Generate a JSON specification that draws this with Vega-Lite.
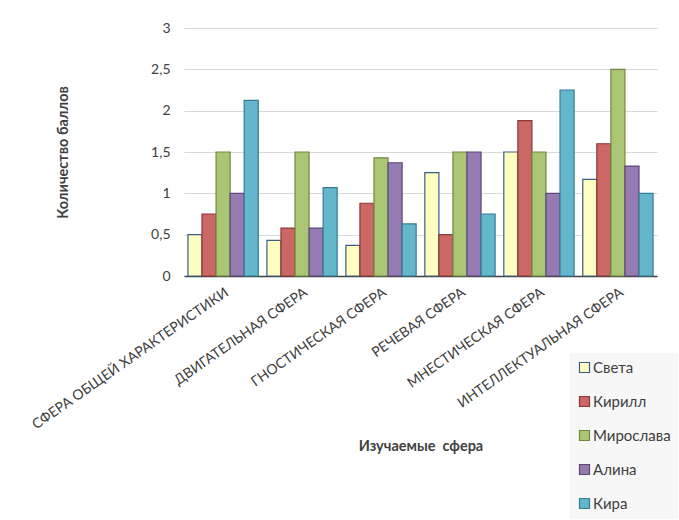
{
  "$schema": "https://vega.github.io/schema/vega-lite/v6.json",
  "autosize": {"type": "none"},
  "padding": {"left": 184, "top": 28, "right": 22, "bottom": 244},
  "width": 473,
  "height": 248,
  "background": "white",
  "config": {
    "font": "Lato",
    "view": {"stroke": null}
  },
  "data": {
    "values": [
      {"sphere": "СФЕРА ОБЩЕЙ ХАРАКТЕРИСТИКИ", "name": "Света", "score": 0.5},
      {"sphere": "СФЕРА ОБЩЕЙ ХАРАКТЕРИСТИКИ", "name": "Кирилл", "score": 0.75},
      {"sphere": "СФЕРА ОБЩЕЙ ХАРАКТЕРИСТИКИ", "name": "Мирослава", "score": 1.5},
      {"sphere": "СФЕРА ОБЩЕЙ ХАРАКТЕРИСТИКИ", "name": "Алина", "score": 1.0},
      {"sphere": "СФЕРА ОБЩЕЙ ХАРАКТЕРИСТИКИ", "name": "Кира", "score": 2.125},
      {"sphere": "ДВИГАТЕЛЬНАЯ СФЕРА", "name": "Света", "score": 0.43},
      {"sphere": "ДВИГАТЕЛЬНАЯ СФЕРА", "name": "Кирилл", "score": 0.58},
      {"sphere": "ДВИГАТЕЛЬНАЯ СФЕРА", "name": "Мирослава", "score": 1.5},
      {"sphere": "ДВИГАТЕЛЬНАЯ СФЕРА", "name": "Алина", "score": 0.58},
      {"sphere": "ДВИГАТЕЛЬНАЯ СФЕРА", "name": "Кира", "score": 1.07},
      {"sphere": "ГНОСТИЧЕСКАЯ СФЕРА", "name": "Света", "score": 0.37},
      {"sphere": "ГНОСТИЧЕСКАЯ СФЕРА", "name": "Кирилл", "score": 0.88},
      {"sphere": "ГНОСТИЧЕСКАЯ СФЕРА", "name": "Мирослава", "score": 1.43},
      {"sphere": "ГНОСТИЧЕСКАЯ СФЕРА", "name": "Алина", "score": 1.37},
      {"sphere": "ГНОСТИЧЕСКАЯ СФЕРА", "name": "Кира", "score": 0.63},
      {"sphere": "РЕЧЕВАЯ СФЕРА", "name": "Света", "score": 1.25},
      {"sphere": "РЕЧЕВАЯ СФЕРА", "name": "Кирилл", "score": 0.5},
      {"sphere": "РЕЧЕВАЯ СФЕРА", "name": "Мирослава", "score": 1.5},
      {"sphere": "РЕЧЕВАЯ СФЕРА", "name": "Алина", "score": 1.5},
      {"sphere": "РЕЧЕВАЯ СФЕРА", "name": "Кира", "score": 0.75},
      {"sphere": "МНЕСТИЧЕСКАЯ СФЕРА", "name": "Света", "score": 1.5},
      {"sphere": "МНЕСТИЧЕСКАЯ СФЕРА", "name": "Кирилл", "score": 1.88},
      {"sphere": "МНЕСТИЧЕСКАЯ СФЕРА", "name": "Мирослава", "score": 1.5},
      {"sphere": "МНЕСТИЧЕСКАЯ СФЕРА", "name": "Алина", "score": 1.0},
      {"sphere": "МНЕСТИЧЕСКАЯ СФЕРА", "name": "Кира", "score": 2.25},
      {"sphere": "ИНТЕЛЛЕКТУАЛЬНАЯ СФЕРА", "name": "Света", "score": 1.17},
      {"sphere": "ИНТЕЛЛЕКТУАЛЬНАЯ СФЕРА", "name": "Кирилл", "score": 1.6},
      {"sphere": "ИНТЕЛЛЕКТУАЛЬНАЯ СФЕРА", "name": "Мирослава", "score": 2.5},
      {"sphere": "ИНТЕЛЛЕКТУАЛЬНАЯ СФЕРА", "name": "Алина", "score": 1.33},
      {"sphere": "ИНТЕЛЛЕКТУАЛЬНАЯ СФЕРА", "name": "Кира", "score": 1.0}
    ]
  },
  "mark": {"type": "bar", "strokeWidth": 1.2, "fillOpacity": 1},
  "encoding": {
    "x": {
      "field": "sphere",
      "type": "nominal",
      "sort": null,
      "scale": {"paddingInner": 0.11, "paddingOuter": 0.05},
      "axis": {
        "title": "Изучаемые\u00a0 сфера",
        "titleFontSize": 14.5,
        "titleFontWeight": "bold",
        "titleColor": "#404040",
        "titleY": 170,
        "titleBaseline": "middle",
        "labelAngle": -35,
        "labelFontSize": 14,
        "labelColor": "#404040",
        "labelPadding": 9,
        "labelLimit": 400,
        "ticks": false,
        "domainColor": "#404040",
        "domainWidth": 1.5
      }
    },
    "xOffset": {
      "field": "name",
      "type": "nominal",
      "sort": ["Света", "Кирилл", "Мирослава", "Алина", "Кира"],
      "scale": {"paddingInner": 0, "paddingOuter": 0}
    },
    "y": {
      "field": "score",
      "type": "quantitative",
      "scale": {"domain": [0, 3], "nice": false},
      "axis": {
        "title": "Количество баллов",
        "titleFontSize": 14.5,
        "titleFontWeight": "bold",
        "titleColor": "#404040",
        "titlePadding": 80,
        "values": [0, 0.5, 1, 1.5, 2, 2.5, 3],
        "labelExpr": "replace(toString(datum.value), '.', ',')",
        "labelFontSize": 14,
        "labelColor": "#404040",
        "labelPadding": 14,
        "domain": false,
        "ticks": false,
        "gridColor": "#D9D9D9",
        "gridWidth": 1
      }
    },
    "fill": {
      "field": "name",
      "type": "nominal",
      "sort": ["Света", "Кирилл", "Мирослава", "Алина", "Кира"],
      "scale": {
        "domain": ["Света", "Кирилл", "Мирослава", "Алина", "Кира"],
        "range": ["#FFFFC0", "#CB6866", "#AAC574", "#957BB2", "#63B6CC"]
      },
      "legend": {
        "title": null,
        "orient": "none",
        "legendX": 386,
        "legendY": 325,
        "fillColor": "#F7F7F7",
        "padding": 7,
        "symbolType": "square",
        "symbolSize": 100,
        "symbolStrokeWidth": 1.2,
        "labelFontSize": 15,
        "labelColor": "#404040",
        "labelOffset": 1,
        "rowPadding": 18,
        "symbolOpacity": 1
      }
    },
    "stroke": {
      "field": "name",
      "type": "nominal",
      "sort": ["Света", "Кирилл", "Мирослава", "Алина", "Кира"],
      "scale": {
        "domain": ["Света", "Кирилл", "Мирослава", "Алина", "Кира"],
        "range": ["#385D8A", "#8C3836", "#71893F", "#5C4776", "#357D91"]
      },
      "legend": {
        "title": null,
        "orient": "none",
        "legendX": 386,
        "legendY": 325,
        "fillColor": "#F7F7F7",
        "padding": 7,
        "symbolType": "square",
        "symbolSize": 100,
        "symbolStrokeWidth": 1.2,
        "labelFontSize": 15,
        "labelColor": "#404040",
        "labelOffset": 1,
        "rowPadding": 18
      }
    }
  }
}
